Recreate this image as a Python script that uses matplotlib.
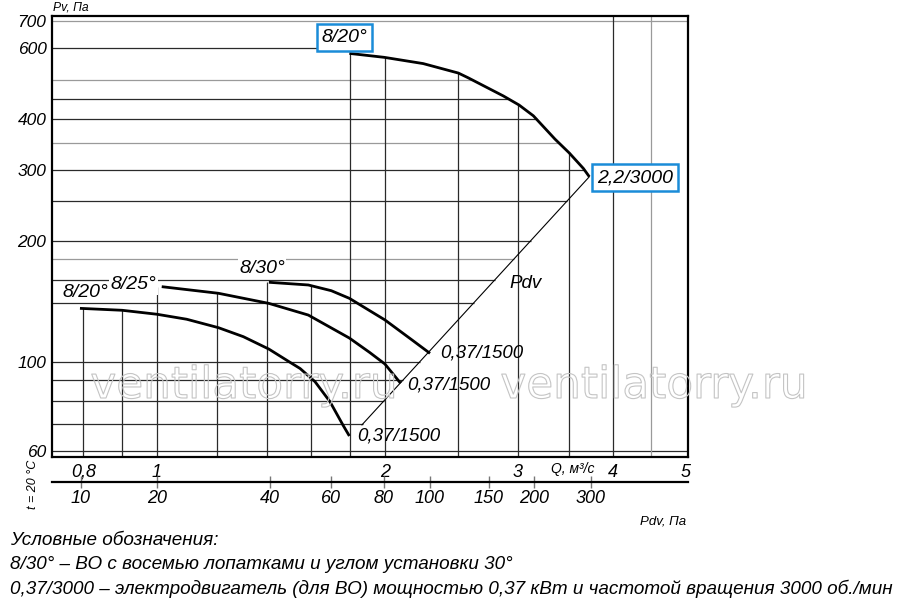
import numpy as np
import matplotlib
matplotlib.use('Agg')
import matplotlib.pyplot as plt
from matplotlib import patheffects as pe
from matplotlib import font_manager as fm
from matplotlib.ticker import NullLocator, FixedLocator, FixedFormatter

plt.rcParams['font.family'] = ['Liberation Sans', 'DejaVu Sans']
plt.rcParams['font.style'] = 'italic'


def has_font(fam):
    try:
        fm.findfont(fm.FontProperties(family=fam), fallback_to_default=False)
        return True
    except Exception:
        return False


NARROW = has_font('Liberation Sans Narrow')

# ---------------- data ----------------
q_820_3000 = [1.796, 1.997, 2.248, 2.502, 2.578, 2.869, 3.009, 3.143, 3.357, 3.505, 3.659, 3.726]
p_820_3000 = [583, 570, 550, 521, 507, 457, 434, 408, 357, 330, 302, 288]

q_820_1500 = [0.7915, 0.900, 1.0, 1.095, 1.206, 1.301, 1.406, 1.499, 1.546, 1.618, 1.693, 1.763, 1.796]
p_820_1500 = [135.7, 134.2, 131.2, 127.5, 121.5, 115.4, 107.5, 99.7, 96.2, 89.2, 79.6, 69.4, 65.4]

q_825_1500 = [1.015, 1.206, 1.406, 1.585, 1.796, 1.911, 2.001, 2.099]
p_825_1500 = [153.6, 147.9, 139.6, 130.6, 114.5, 105.4, 98.7, 88.4]

q_830_1500 = [1.406, 1.585, 1.700, 1.796, 2.001, 2.182, 2.295]
p_830_1500 = [157.5, 155.1, 150.1, 143.7, 127.0, 112.6, 104.9]

pdv_line_q = [1.866, 3.726]
pdv_line_p = [69.7, 288]

y_ticks = [60, 100, 200, 300, 400, 600, 700]
y_tick_labels = ['60', '100', '200', '300', '400', '600', '700']
q_ticks = [0.8, 1, 2, 3, 4, 5]
q_tick_labels = ['0,8', '1', '2', '3', '4', '5']
pdv_tick_labels = ['10', '20', '40', '60', '80', '100', '150', '200', '300']
pdv_tick_q = [0.794, 1.0, 1.41, 1.70, 1.995, 2.294, 2.746, 3.148, 3.744]

h_grid = [60, 70, 80, 90, 100, 140, 160, 180, 200, 250, 300, 350, 400, 450, 500, 600, 700]
h_grid_light = [180, 350, 500, 700]
v_grid = [0.8, 0.9, 1.0, 1.2, 1.4, 1.6, 1.8, 2.0, 2.5, 3.0, 3.5, 4.0, 4.5]
v_grid_light = [4.5]

curve_labels = ['8/20°', '8/25°', '8/30°']
motor_1500 = '0,37/1500'
motor_3000 = '2,2/3000'
legend_words = [['Условные', 'обозначения:'],
                ['8/30°', '–', 'ВО', 'с', 'восемью', 'лопатками', 'и', 'углом', 'установки', '30°'],
                ['0,37/3000', '–', 'электродвигатель', '(для', 'ВО)', 'мощностью', '0,37', 'кВт', 'и',
                 'частотой', 'вращения', '3000', 'об./мин']]

# ---------------- figure ----------------
W, H = 900, 607
fig = plt.figure(figsize=(W / 100, H / 100), dpi=100)
ax = fig.add_axes([52 / W, 150 / H, 636 / W, 441 / H])
ax.set_xscale('log')
ax.set_yscale('log')
XMIN, XMAX = 0.727, 5.03
YMIN, YMAX = 58, 722
ax.set_xlim(XMIN, XMAX)
ax.set_ylim(YMIN, YMAX)

curves_1500 = [(q_820_1500, p_820_1500), (q_825_1500, p_825_1500), (q_830_1500, p_830_1500)]
all_curves = curves_1500 + [(q_820_3000, p_820_3000)]

grid_dark = '#2a2a2a'
grid_light = '#9a9a9a'

# horizontal grid, clipped at the 3000 curve and the Pdv line
q3 = np.array(q_820_3000); p3 = np.array(p_820_3000)
lq = np.log(pdv_line_q); lp = np.log(pdv_line_p)
for v in h_grid:
    ends = []
    if p3.min() <= v <= p3.max():
        ends.append(np.interp(v, p3[::-1], q3[::-1]))
    elif p3.max() < v < 650:
        ends.append(q3[0])
    if pdv_line_p[0] <= v <= pdv_line_p[-1]:
        ends.append(np.exp(np.interp(np.log(v), lp, lq)))
    xe = min(ends) if ends else XMAX
    col = grid_light if v in h_grid_light else grid_dark
    ax.plot([XMIN, xe], [v, v], color=col, lw=0.9, zorder=1, solid_capstyle='butt')

# vertical grid, clipped at the top curve
for vq in v_grid:
    tops = [np.interp(vq, q, p) for q, p in all_curves if q[0] - 0.02 <= vq <= q[-1] + 1e-9]
    yt = max(tops) if tops else YMAX
    col = grid_light if vq in v_grid_light else grid_dark
    ax.plot([vq, vq], [YMIN, yt], color=col, lw=0.9, zorder=1, solid_capstyle='butt')

# Pdv line
ax.plot(pdv_line_q, pdv_line_p, color='black', lw=0.8, zorder=2)

# curves
for q, p in all_curves:
    ax.plot(q, p, color='black', lw=2.0, zorder=3, solid_capstyle='butt', solid_joinstyle='round')

# curve labels
wb = dict(facecolor='white', edgecolor='none', pad=1.0)
lab_offsets = [(5, 16), (-28, 2), (-7, 14)]
for (q, p), txt, off in zip(curves_1500, curve_labels, lab_offsets):
    ax.annotate(txt, (q[0], p[0]), xytext=off, textcoords='offset pixels',
                ha='center', va='center', fontsize=14, zorder=4, bbox=wb)
m_offsets = [(8, 0), (7, -2), (10, 0)]
for (q, p), off in zip(curves_1500, m_offsets):
    ax.annotate(motor_1500, (q[-1], p[-1]), xytext=off, textcoords='offset pixels',
                ha='left', va='center', fontsize=13.5, zorder=4)

blue = '#1a8cd8'
bb = dict(boxstyle='square,pad=0.25', facecolor='white', edgecolor=blue, lw=1.8)
ax.annotate(curve_labels[0], (q_820_3000[0], p_820_3000[0]), xytext=(-5, 16),
            textcoords='offset pixels', ha='center', va='center', fontsize=14, zorder=5, bbox=bb)
ax.annotate(motor_3000, (q_820_3000[-1], p_820_3000[-1]), xytext=(8, -1),
            textcoords='offset pixels', ha='left', va='center', fontsize=14, zorder=5, bbox=bb)

ax.text((526 - 52) / 636, (457 - 283) / 441, 'Pdv', transform=ax.transAxes,
        ha='center', va='center', fontsize=13.5, zorder=4)

# axes styling
for s in ax.spines.values():
    s.set_linewidth(1.6)
    s.set_color('black')
ax.xaxis.set_minor_locator(NullLocator())
ax.yaxis.set_minor_locator(NullLocator())
ax.xaxis.set_major_locator(FixedLocator(q_ticks))
ax.xaxis.set_major_formatter(FixedFormatter(q_tick_labels))
ax.yaxis.set_major_locator(FixedLocator(y_ticks))
ax.yaxis.set_major_formatter(FixedFormatter(y_tick_labels))
ax.tick_params(axis='x', length=0, pad=5, labelsize=13)
ax.tick_params(axis='y', length=0, pad=4, labelsize=12.5)

# Pdv axis
ax2 = fig.add_axes([52 / W, (H - 482) / H, 636 / W, 1e-6])
ax2.set_xscale('log')
ax2.set_xlim(XMIN, XMAX)
ax2.patch.set_visible(False)
for k in ['left', 'right', 'top']:
    ax2.spines[k].set_visible(False)
ax2.spines['bottom'].set_linewidth(1.6)
ax2.set_yticks([])
ax2.xaxis.set_minor_locator(NullLocator())
ax2.xaxis.set_major_locator(FixedLocator(pdv_tick_q))
ax2.xaxis.set_major_formatter(FixedFormatter(pdv_tick_labels))
ax2.tick_params(axis='x', direction='inout', length=8, width=1, color='#777777', pad=2, labelsize=13)

# watermark
for xc in (244, 654):
    fig.text(xc / W, (H - 398) / H, 'ventilatorry.ru', family='DejaVu Sans', style='normal',
             fontsize=31.5, ha='center', va='baseline', color=(1, 1, 1, 0),
             path_effects=[pe.Stroke(linewidth=0.8, foreground='#c4c4c4')], zorder=10)

# outer texts
fig.text(53 / W, (H - 8) / H, 'Pv, Па', fontsize=8.7, ha='left', va='center')
fig.text(573 / W, (H - 469) / H, 'Q, м³/с', fontsize=10, ha='center', va='center')
fig.text(663 / W, (H - 521) / H, 'Pdv, Па', fontsize=9.5, ha='center', va='center')
fig.text(33 / W, (H - 484) / H, 't = 20 °C', fontsize=9, ha='center', va='center', rotation=90)

if NARROW:
    leg_fam, leg_size, sep = ['Liberation Sans Narrow', 'Liberation Sans'], 15.4, '  '
else:
    leg_fam, leg_size, sep = ['Liberation Sans', 'DejaVu Sans'], 13.6, ' '
for words, yb in zip(legend_words, [545, 569, 594]):
    fig.text(10 / W, (H - yb) / H, sep.join(words), family=leg_fam, fontsize=leg_size,
             ha='left', va='baseline')

fig.savefig('out.png', dpi=100)
